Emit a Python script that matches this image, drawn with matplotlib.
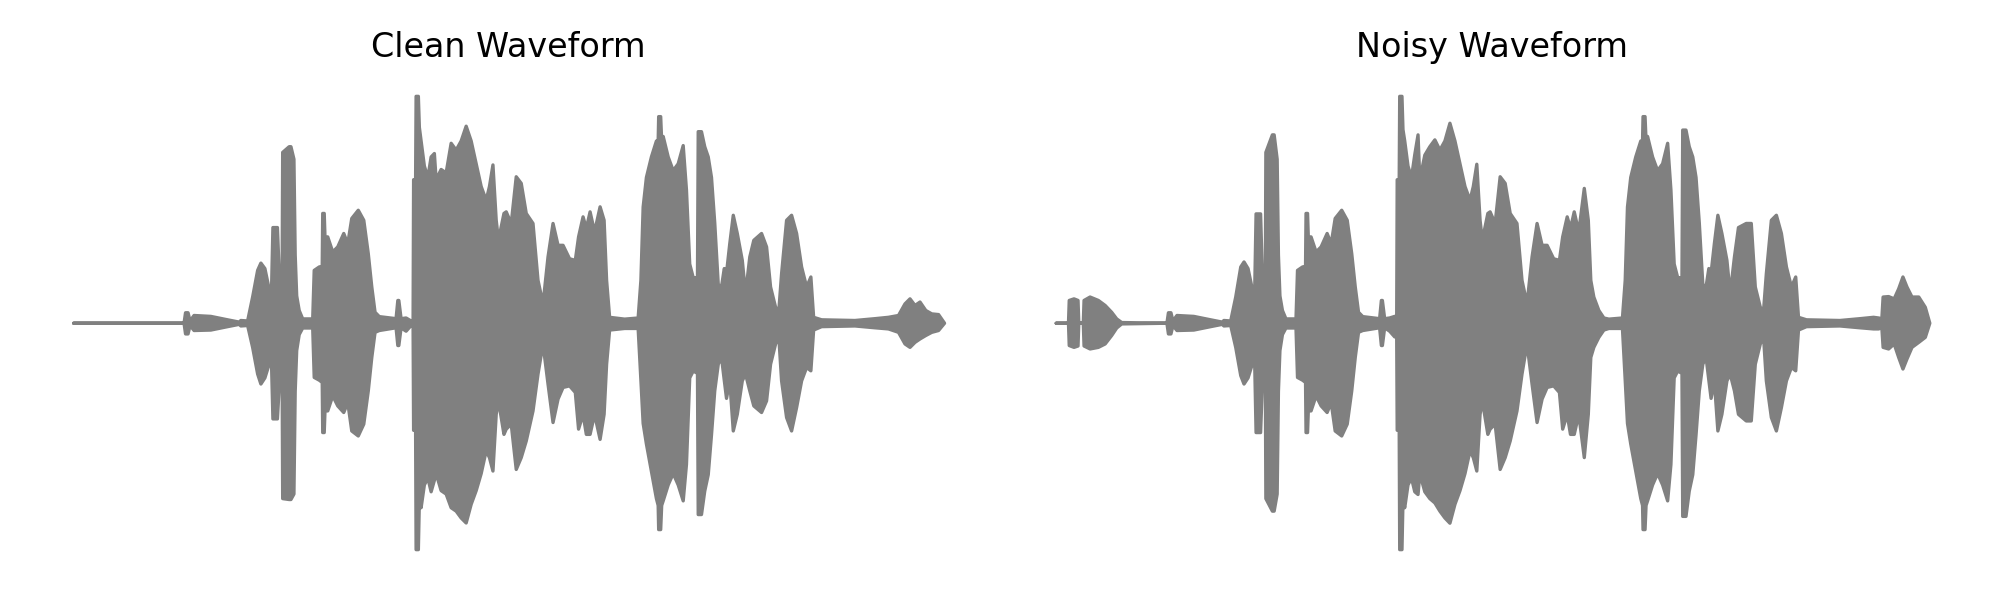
import matplotlib.pyplot as plt

# Envolvente de la forma de onda (tiempo en s, amplitud normalizada)
clean_t = [0.000, 0.441, 0.447, 0.457, 0.465, 0.481, 0.548, 0.615, 0.661, 0.668,
           0.695, 0.715, 0.735, 0.748, 0.764, 0.781, 0.788, 0.791, 0.796, 0.814,
           0.820, 0.833, 0.835, 0.861, 0.868, 0.880, 0.885, 0.891, 0.901, 0.915,
           0.955, 0.961, 0.981, 0.993, 0.995, 1.001, 1.004, 1.015, 1.035, 1.055,
           1.079, 1.095, 1.111, 1.137, 1.159, 1.177, 1.191, 1.204, 1.221, 1.288,
           1.295, 1.299, 1.308, 1.328, 1.348, 1.356, 1.358, 1.366, 1.368, 1.377,
           1.381, 1.388, 1.401, 1.415, 1.428, 1.441, 1.448, 1.468, 1.488, 1.508,
           1.528, 1.548, 1.568, 1.588, 1.608, 1.628, 1.648, 1.661, 1.675, 1.688,
           1.697, 1.719, 1.728, 1.748, 1.768, 1.788, 1.808, 1.835, 1.855, 1.875,
           1.895, 1.915, 1.935, 1.955, 1.981, 2.004, 2.017, 2.035, 2.048, 2.063,
           2.081, 2.103, 2.119, 2.129, 2.141, 2.201, 2.255, 2.266, 2.275, 2.288,
           2.308, 2.328, 2.335, 2.337, 2.345, 2.349, 2.355, 2.375, 2.395, 2.415,
           2.435, 2.448, 2.461, 2.475, 2.492, 2.495, 2.508, 2.521, 2.535, 2.548,
           2.561, 2.575, 2.588, 2.599, 2.608, 2.621, 2.635, 2.651, 2.671, 2.684,
           2.701, 2.717, 2.748, 2.768, 2.784, 2.804, 2.817, 2.828, 2.848, 2.868,
           2.888, 2.908, 2.928, 2.945, 2.956, 2.988, 3.121, 3.201, 3.255, 3.295,
           3.321, 3.341, 3.361, 3.381, 3.404, 3.428, 3.455, 3.479]
clean_hi = [0, 0, .046, .046, .010, .034, .030, .015, .005, .012,
            .010, .115, .232, .264, .240, .150, .100, .170, .420, .420,
            .250, .230, .750, .775, .775, .720, .300, .120, .056, .019,
            .019, .232, .247, .250, .482, .482, .379, .379, .313, .335,
            .394, .349, .460, .496, .452, .305, .159, .048, .029, .020,
            .100, .100, .020, .023, .010, .010, .630, .630, .996, .996,
            .860, .800, .690, .640, .730, .745, .630, .675, .660, .790,
            .760, .800, .865, .800, .700, .600, .540, .600, .695, .452,
            .364, .482, .489, .438, .643, .614, .482, .438, .188, .085,
            .291, .438, .342, .342, .283, .276, .379, .467, .416, .489,
            .401, .511, .452, .188, .026, .018, .023, .188, .510, .640,
            .730, .800, .800, .907, .907, .800, .820, .730, .670, .700,
            .780, .585, .260, .200, .200, .841, .841, .775, .730, .640,
            .440, .170, .160, .240, .220, .349, .474, .394, .276, .129,
            .291, .364, .394, .335, .159, .070, .056, .217, .452, .474,
            .394, .247, .159, .203, .026, .015, .012, .020, .026, .034,
            .085, .107, .078, .093, .056, .041, .038, 0]
clean_lo = [0, 0, -.047, -.047, -.010, -.032, -.030, -.015, -.005, -.012,
            -.010, -.106, -.223, -.267, -.240, -.180, -.120, -.200, -.420, -.420,
            -.300, -.250, -.770, -.774, -.774, -.750, -.300, -.120, -.050, -.021,
            -.021, -.238, -.250, -.260, -.480, -.480, -.385, -.385, -.319, -.363,
            -.392, -.348, -.473, -.495, -.443, -.297, -.150, -.040, -.032, -.020,
            -.098, -.098, -.020, -.035, -.010, -.010, -.470, -.470, -.994, -.994,
            -.780, -.810, -.710, -.680, -.740, -.690, -.660, -.735, -.750, -.810,
            -.825, -.855, -.877, -.795, -.735, -.660, -.560, -.590, -.649, -.400,
            -.340, -.488, -.465, -.443, -.642, -.590, -.517, -.385, -.223, -.091,
            -.267, -.436, -.333, -.282, -.275, -.304, -.465, -.400, -.488, -.488,
            -.400, -.510, -.400, -.180, -.030, -.023, -.023, -.250, -.440, -.530,
            -.650, -.770, -.800, -.906, -.906, -.800, -.780, -.710, -.660, -.710,
            -.780, -.620, -.240, -.210, -.220, -.840, -.840, -.737, -.665, -.490,
            -.297, -.180, -.150, -.250, -.330, -.253, -.473, -.400, -.253, -.223,
            -.297, -.363, -.392, -.341, -.180, -.091, -.062, -.253, -.414, -.473,
            -.370, -.253, -.194, -.209, -.030, -.015, -.012, -.020, -.025, -.040,
            -.091, -.106, -.084, -.069, -.054, -.040, -.032, 0]

noisy_t = [0.000, 0.049, 0.052, 0.071, 0.087, 0.090, 0.108, 0.111, 0.135, 0.168,
           0.195, 0.221, 0.241, 0.261,
           0.441, 0.447, 0.457, 0.465, 0.481, 0.548, 0.615, 0.661, 0.668,
           0.695, 0.715, 0.735, 0.748, 0.764, 0.781, 0.788, 0.791, 0.796, 0.814,
           0.820, 0.833, 0.835, 0.861, 0.868, 0.880, 0.885, 0.891, 0.901, 0.915,
           0.955, 0.961, 0.981, 0.993, 0.995, 1.001, 1.004, 1.015, 1.035, 1.055,
           1.079, 1.095, 1.111, 1.137, 1.159, 1.177, 1.191, 1.204, 1.221, 1.288,
           1.295, 1.299, 1.308, 1.328, 1.348, 1.356, 1.358, 1.366, 1.368, 1.377,
           1.381, 1.388, 1.401, 1.415, 1.428, 1.441, 1.448, 1.468, 1.488, 1.508,
           1.528, 1.548, 1.568, 1.588, 1.608, 1.628, 1.648, 1.661, 1.675, 1.688,
           1.697, 1.719, 1.728, 1.748, 1.768, 1.788, 1.808, 1.835, 1.855, 1.875,
           1.895, 1.915, 1.935, 1.955, 1.981, 2.004, 2.017, 2.035, 2.048, 2.063,
           2.081, 2.103, 2.119, 2.129, 2.141, 2.161, 2.181, 2.201, 2.255, 2.266, 2.275, 2.288,
           2.308, 2.328, 2.335, 2.337, 2.345, 2.349, 2.355, 2.375, 2.395, 2.415,
           2.435, 2.448, 2.461, 2.475, 2.492, 2.495, 2.508, 2.521, 2.535, 2.548,
           2.561, 2.575, 2.588, 2.599, 2.608, 2.621, 2.635, 2.651, 2.671, 2.684,
           2.701, 2.717, 2.748, 2.768, 2.784, 2.804, 2.817, 2.828, 2.848, 2.868,
           2.888, 2.908, 2.928, 2.945, 2.956, 2.988, 3.121, 3.201, 3.255, 3.275, 3.288, 3.293,
           3.315, 3.337, 3.355, 3.372, 3.388, 3.408, 3.435, 3.461, 3.479]
noisy_hi = [0, 0, .100, .107, .100, 0, 0, .100, .115, .100,
            .078, .048, .019, .003,
            0, .046, .046, .010, .034, .030, .015, .005, .012,
            .010, .115, .247, .269, .240, .150, .100, .170, .480, .480,
            .250, .230, .750, .827, .827, .720, .300, .120, .056, .019,
            .019, .232, .247, .250, .482, .482, .379, .379, .313, .335,
            .394, .349, .460, .496, .452, .305, .159, .048, .029, .020,
            .100, .100, .020, .023, .030, .030, .630, .630, .996, .996,
            .850, .800, .690, .640, .740, .827, .630, .738, .775, .805,
            .760, .800, .878, .800, .700, .600, .540, .600, .698, .452,
            .364, .482, .489, .438, .643, .614, .482, .438, .188, .085,
            .291, .438, .342, .342, .283, .276, .379, .467, .416, .489,
            .401, .592, .452, .188, .115, .056, .023, .018, .023, .188, .510, .640,
            .730, .800, .800, .907, .907, .800, .820, .730, .670, .700,
            .790, .585, .260, .200, .200, .848, .848, .775, .730, .640,
            .440, .170, .160, .240, .220, .349, .474, .394, .276, .129,
            .291, .420, .438, .438, .159, .070, .056, .217, .452, .474,
            .394, .247, .159, .203, .026, .015, .012, .020, .026, .023, .020, .115,
            .117, .107, .151, .203, .159, .115, .115, .070, 0]
noisy_lo = [0, 0, -.098, -.106, -.100, 0, 0, -.100, -.113, -.106,
            -.091, -.054, -.021, -.003,
            0, -.047, -.047, -.010, -.032, -.030, -.015, -.005, -.012,
            -.010, -.106, -.230, -.267, -.240, -.180, -.120, -.200, -.480, -.480,
            -.300, -.250, -.770, -.825, -.825, -.750, -.300, -.120, -.050, -.021,
            -.021, -.238, -.250, -.260, -.480, -.480, -.385, -.385, -.319, -.363,
            -.392, -.348, -.473, -.495, -.443, -.297, -.150, -.040, -.032, -.020,
            -.098, -.098, -.020, -.035, -.060, -.060, -.470, -.470, -.994, -.994,
            -.780, -.810, -.710, -.680, -.740, -.752, -.660, -.740, -.770, -.789,
            -.825, -.855, -.878, -.795, -.735, -.660, -.560, -.590, -.649, -.400,
            -.340, -.488, -.465, -.443, -.642, -.590, -.517, -.385, -.223, -.091,
            -.267, -.436, -.333, -.282, -.275, -.304, -.465, -.400, -.488, -.488,
            -.400, -.590, -.400, -.150, -.106, -.062, -.030, -.023, -.023, -.250, -.440, -.530,
            -.650, -.770, -.800, -.906, -.906, -.800, -.780, -.710, -.660, -.710,
            -.780, -.620, -.240, -.210, -.220, -.848, -.848, -.737, -.665, -.490,
            -.297, -.180, -.150, -.250, -.330, -.253, -.473, -.400, -.253, -.223,
            -.297, -.400, -.429, -.429, -.180, -.091, -.062, -.253, -.414, -.473,
            -.370, -.253, -.194, -.209, -.030, -.015, -.012, -.020, -.025, -.025, -.020, -.106,
            -.113, -.091, -.150, -.201, -.157, -.106, -.084, -.062, 0]

titles = ['Clean Waveform', 'Noisy Waveform']

fig = plt.figure(figsize=(10, 3), dpi=200)
ax1 = fig.add_axes([0.0148, 0.047, 0.479, 0.831])
ax2 = fig.add_axes([0.506, 0.047, 0.4805, 0.831])

for ax, t, hi, lo, title in [(ax1, clean_t, clean_hi, clean_lo, titles[0]),
                             (ax2, noisy_t, noisy_hi, noisy_lo, titles[1])]:
    ax.fill_between(t, lo, hi, facecolor='gray', edgecolor='gray', linewidth=1.2)
    ax.set_title(title, fontsize=12)
    ax.axis('off')

plt.savefig('out.png', dpi=200)
